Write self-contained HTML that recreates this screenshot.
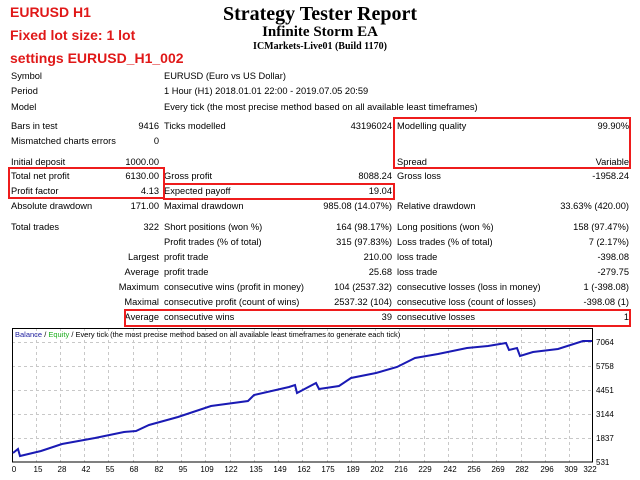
<!DOCTYPE html>
<html><head><meta charset="utf-8"><style>
body{margin:0;width:640px;height:480px;background:#fff;position:relative;overflow:hidden;font-family:"Liberation Sans",sans-serif;font-size:9.3px;color:#000}
.t{position:absolute;white-space:nowrap;line-height:12px}
.r{text-align:right}
.red{position:absolute;color:#e01818;font-family:"Liberation Sans",sans-serif;font-weight:bold;font-size:14px;white-space:nowrap}
.ti{position:absolute;left:0;width:640px;text-align:center;font-family:"Liberation Serif",serif;font-weight:bold;white-space:nowrap}
.box{position:absolute;border:2px solid #ee1c1c;box-sizing:border-box}
</style></head><body>
<div class="red" style="left:10px;top:4px">EURUSD H1</div>
<div class="red" style="left:10px;top:27px">Fixed lot size: 1 lot</div>
<div class="red" style="left:10px;top:50px">settings EURUSD_H1_002</div>
<div class="ti" style="top:3px;font-size:20px">Strategy Tester Report</div>
<div class="ti" style="top:24px;font-size:15px">Infinite Storm EA</div>
<div class="ti" style="top:41px;font-size:10px">ICMarkets-Live01 (Build 1170)</div>

<div class="t" style="left:11px;top:70px">Symbol</div><div class="t" style="left:164px;top:70px">EURUSD (Euro vs US Dollar)</div>
<div class="t" style="left:11px;top:85px">Period</div><div class="t" style="left:164px;top:85px">1 Hour (H1) 2018.01.01 22:00 - 2019.07.05 20:59</div>
<div class="t" style="left:11px;top:101px">Model</div><div class="t" style="left:164px;top:101px">Every tick (the most precise method based on all available least timeframes)</div>

<div class="t" style="left:11px;top:120px">Bars in test</div><div class="t r" style="right:481px;top:120px">9416</div>
<div class="t" style="left:164px;top:120px">Ticks modelled</div><div class="t r" style="right:248px;top:120px">43196024</div>
<div class="t" style="left:397px;top:120px">Modelling quality</div><div class="t r" style="right:11px;top:120px">99.90%</div>
<div class="t" style="left:11px;top:135px">Mismatched charts errors</div><div class="t r" style="right:481px;top:135px">0</div>

<div class="t" style="left:11px;top:156px">Initial deposit</div><div class="t r" style="right:481px;top:156px">1000.00</div>
<div class="t" style="left:397px;top:156px">Spread</div><div class="t r" style="right:11px;top:156px">Variable</div>
<div class="t" style="left:11px;top:170px">Total net profit</div><div class="t r" style="right:481px;top:170px">6130.00</div>
<div class="t" style="left:164px;top:170px">Gross profit</div><div class="t r" style="right:248px;top:170px">8088.24</div>
<div class="t" style="left:397px;top:170px">Gross loss</div><div class="t r" style="right:11px;top:170px">-1958.24</div>
<div class="t" style="left:11px;top:185px">Profit factor</div><div class="t r" style="right:481px;top:185px">4.13</div>
<div class="t" style="left:164px;top:185px">Expected payoff</div><div class="t r" style="right:248px;top:185px">19.04</div>
<div class="t" style="left:11px;top:200px">Absolute drawdown</div><div class="t r" style="right:481px;top:200px">171.00</div>
<div class="t" style="left:164px;top:200px">Maximal drawdown</div><div class="t r" style="right:248px;top:200px">985.08 (14.07%)</div>
<div class="t" style="left:397px;top:200px">Relative drawdown</div><div class="t r" style="right:11px;top:200px">33.63% (420.00)</div>

<div class="t" style="left:11px;top:221px">Total trades</div><div class="t r" style="right:481px;top:221px">322</div>
<div class="t" style="left:164px;top:221px">Short positions (won %)</div><div class="t r" style="right:248px;top:221px">164 (98.17%)</div>
<div class="t" style="left:397px;top:221px">Long positions (won %)</div><div class="t r" style="right:11px;top:221px">158 (97.47%)</div>
<div class="t" style="left:164px;top:236px">Profit trades (% of total)</div><div class="t r" style="right:248px;top:236px">315 (97.83%)</div>
<div class="t" style="left:397px;top:236px">Loss trades (% of total)</div><div class="t r" style="right:11px;top:236px">7 (2.17%)</div>
<div class="t r" style="right:481px;top:251px">Largest</div><div class="t" style="left:164px;top:251px">profit trade</div><div class="t r" style="right:248px;top:251px">210.00</div>
<div class="t" style="left:397px;top:251px">loss trade</div><div class="t r" style="right:11px;top:251px">-398.08</div>
<div class="t r" style="right:481px;top:266px">Average</div><div class="t" style="left:164px;top:266px">profit trade</div><div class="t r" style="right:248px;top:266px">25.68</div>
<div class="t" style="left:397px;top:266px">loss trade</div><div class="t r" style="right:11px;top:266px">-279.75</div>
<div class="t r" style="right:481px;top:281px">Maximum</div><div class="t" style="left:164px;top:281px">consecutive wins (profit in money)</div><div class="t r" style="right:248px;top:281px">104 (2537.32)</div>
<div class="t" style="left:397px;top:281px">consecutive losses (loss in money)</div><div class="t r" style="right:11px;top:281px">1 (-398.08)</div>
<div class="t r" style="right:481px;top:296px">Maximal</div><div class="t" style="left:164px;top:296px">consecutive profit (count of wins)</div><div class="t r" style="right:248px;top:296px">2537.32 (104)</div>
<div class="t" style="left:397px;top:296px">consecutive loss (count of losses)</div><div class="t r" style="right:11px;top:296px">-398.08 (1)</div>
<div class="t r" style="right:481px;top:311px">Average</div><div class="t" style="left:164px;top:311px">consecutive wins</div><div class="t r" style="right:248px;top:311px">39</div>
<div class="t" style="left:397px;top:311px">consecutive losses</div><div class="t r" style="right:11px;top:311px">1</div>

<div class="box" style="left:393px;top:117px;width:238px;height:52px"></div>
<div class="box" style="left:8px;top:167px;width:157px;height:32px"></div>
<div class="box" style="left:163px;top:183px;width:232px;height:17px"></div>
<div class="box" style="left:124px;top:309px;width:507px;height:18px"></div>

<svg style="position:absolute;left:0;top:0" width="640" height="480">
<g stroke="#c8c8c8" stroke-width="1" stroke-dasharray="3,3">
<line x1="12" y1="342.5" x2="592" y2="342.5"/><line x1="12" y1="366.5" x2="592" y2="366.5"/>
<line x1="12" y1="390.5" x2="592" y2="390.5"/><line x1="12" y1="414.5" x2="592" y2="414.5"/>
<line x1="12" y1="438.5" x2="592" y2="438.5"/>
<line x1="36.5" y1="328" x2="36.5" y2="462"/><line x1="60.5" y1="328" x2="60.5" y2="462"/><line x1="84.5" y1="328" x2="84.5" y2="462"/><line x1="108.5" y1="328" x2="108.5" y2="462"/><line x1="133.5" y1="328" x2="133.5" y2="462"/><line x1="157.5" y1="328" x2="157.5" y2="462"/><line x1="181.5" y1="328" x2="181.5" y2="462"/><line x1="205.5" y1="328" x2="205.5" y2="462"/><line x1="230.5" y1="328" x2="230.5" y2="462"/><line x1="254.5" y1="328" x2="254.5" y2="462"/><line x1="278.5" y1="328" x2="278.5" y2="462"/><line x1="302.5" y1="328" x2="302.5" y2="462"/><line x1="327.5" y1="328" x2="327.5" y2="462"/><line x1="351.5" y1="328" x2="351.5" y2="462"/><line x1="375.5" y1="328" x2="375.5" y2="462"/><line x1="399.5" y1="328" x2="399.5" y2="462"/><line x1="424.5" y1="328" x2="424.5" y2="462"/><line x1="448.5" y1="328" x2="448.5" y2="462"/><line x1="472.5" y1="328" x2="472.5" y2="462"/><line x1="496.5" y1="328" x2="496.5" y2="462"/><line x1="521.5" y1="328" x2="521.5" y2="462"/><line x1="545.5" y1="328" x2="545.5" y2="462"/><line x1="569.5" y1="328" x2="569.5" y2="462"/>
</g>
<rect x="12.5" y="328.5" width="580" height="133.5" fill="none" stroke="#000" stroke-width="1"/>
<polyline fill="none" stroke="#1a1ab4" stroke-width="2" points="13,453 18,449 20,456 41,451 62,444 95,438 124,432 136,431 149,425 178,417 211,406 248,401 254,395 289,387 295,385 297,393 316,383 319,389 339,386 351,378 376,373 397,367 415,358 438,354 467,348 488,346 506,343 509,350 517,348 520,356 533,352 558,349 583,341 592,341"/>
<text x="15" y="337" font-family="Liberation Sans,sans-serif" font-size="7.5"><tspan fill="#2020a0">Balance</tspan><tspan fill="#000"> / </tspan><tspan fill="#20b020">Equity</tspan><tspan fill="#000"> / Every tick (the most precise method based on all available least timeframes to generate each tick)</tspan></text>
<g font-family="Liberation Sans,sans-serif" font-size="8" fill="#000">
<text x="596" y="345">7064</text><text x="596" y="369">5758</text><text x="596" y="393">4451</text><text x="596" y="417">3144</text><text x="596" y="441">1837</text><text x="596" y="465">531</text>
<g text-anchor="middle">
<text x="14" y="472">0</text><text x="38" y="472">15</text><text x="62" y="472">28</text><text x="86" y="472">42</text><text x="110" y="472">55</text><text x="134" y="472">68</text><text x="159" y="472">82</text><text x="183" y="472">95</text><text x="207" y="472">109</text><text x="231" y="472">122</text><text x="256" y="472">135</text><text x="280" y="472">149</text><text x="304" y="472">162</text><text x="328" y="472">175</text><text x="353" y="472">189</text><text x="377" y="472">202</text><text x="401" y="472">216</text><text x="425" y="472">229</text><text x="450" y="472">242</text><text x="474" y="472">256</text><text x="498" y="472">269</text><text x="522" y="472">282</text><text x="547" y="472">296</text><text x="571" y="472">309</text><text x="590" y="472">322</text>
</g></g>
</svg>
</body></html>
